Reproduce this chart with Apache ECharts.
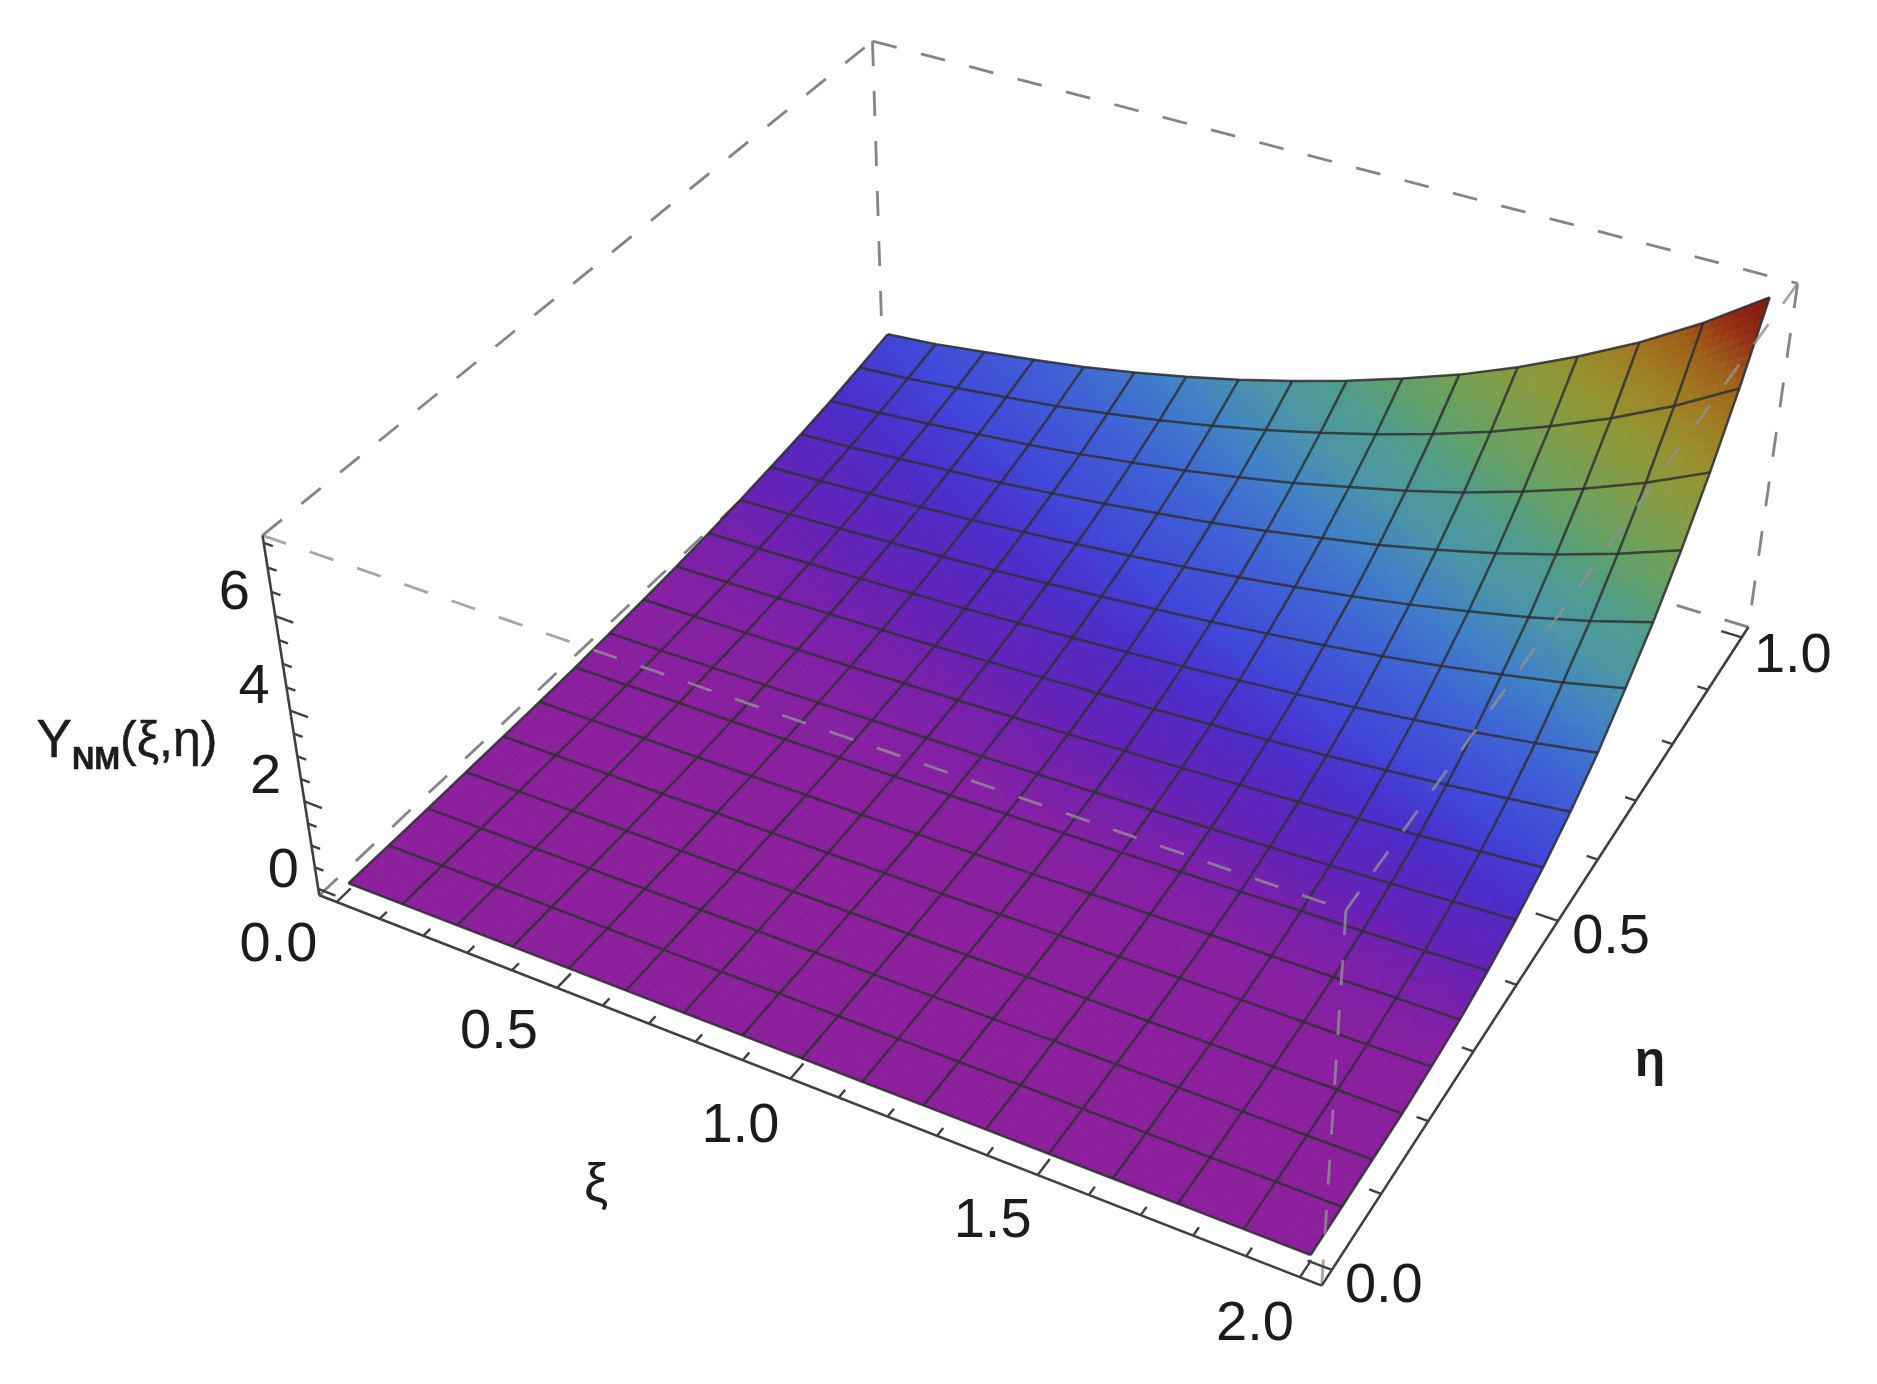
<!DOCTYPE html>
<html><head><meta charset="utf-8">
<style>html,body{margin:0;padding:0;background:#fff}#chart{width:1877px;height:1384px;filter:blur(0.7px)}</style>
<script src="https://cdn.jsdelivr.net/npm/echarts@6/dist/echarts.min.js"></script>
</head><body><div id="chart"></div>
<script>
// ---- values ----
var xiValues=[0,0.125,0.25,0.375,0.5,0.625,0.75,0.875,1,1.125,1.25,1.375,1.5,1.625,1.75,1.875,2];
var etaValues=[0,0.0625,0.125,0.1875,0.25,0.3125,0.375,0.4375,0.5,0.5625,0.625,0.6875,0.75,0.8125,0.875,0.9375,1];
var zEta00=[0,0,0,0,0,0,0,0,0,0,0,0,0,0,0,0,0];
var zEta01=[0,0,0,0,0,0,0,0,0,0,0,0,0,0,0,0.01,0.01];
var zEta02=[0,0,0,0.01,0.01,0.01,0.01,0.01,0.01,0.01,0.01,0.02,0.02,0.02,0.02,0.02,0.03];
var zEta03=[0.01,0.01,0.01,0.01,0.01,0.01,0.02,0.02,0.02,0.02,0.03,0.03,0.03,0.04,0.04,0.05,0.05];
var zEta04=[0.02,0.02,0.02,0.02,0.03,0.03,0.03,0.04,0.04,0.05,0.06,0.06,0.07,0.08,0.09,0.10,0.12];
var zEta05=[0.03,0.03,0.04,0.04,0.05,0.06,0.06,0.07,0.08,0.09,0.11,0.12,0.14,0.15,0.17,0.20,0.22];
var zEta06=[0.05,0.06,0.07,0.07,0.08,0.10,0.11,0.12,0.14,0.16,0.18,0.21,0.23,0.27,0.30,0.34,0.39];
var zEta07=[0.09,0.09,0.11,0.12,0.14,0.16,0.18,0.20,0.23,0.26,0.30,0.34,0.38,0.43,0.49,0.56,0.63];
var zEta08=[0.13,0.14,0.16,0.18,0.20,0.23,0.26,0.30,0.34,0.39,0.44,0.50,0.56,0.64,0.72,0.82,0.93];
var zEta09=[0.18,0.20,0.23,0.26,0.29,0.33,0.38,0.43,0.49,0.55,0.63,0.71,0.80,0.91,1.03,1.17,1.33];
var zEta10=[0.25,0.27,0.31,0.35,0.40,0.45,0.52,0.59,0.67,0.76,0.86,0.97,1.10,1.25,1.41,1.60,1.83];
var zEta11=[0.33,0.37,0.42,0.48,0.54,0.61,0.70,0.80,0.91,1.03,1.17,1.32,1.49,1.69,1.92,2.17,2.47];
var zEta12=[0.43,0.47,0.54,0.61,0.69,0.79,0.90,1.02,1.16,1.32,1.50,1.69,1.91,2.17,2.45,2.78,3.17];
var zEta13=[0.54,0.60,0.69,0.78,0.87,1.00,1.14,1.30,1.47,1.67,1.90,2.14,2.43,2.75,3.12,3.54,4.02];
var zEta14=[0.67,0.75,0.85,0.97,1.09,1.24,1.42,1.61,1.83,2.08,2.37,2.67,3.02,3.43,3.88,4.40,5.01];
var zEta15=[0.83,0.92,1.05,1.19,1.34,1.53,1.74,1.98,2.25,2.56,2.90,3.28,3.71,4.21,4.76,5.40,6.15];
var zEta16=[1.00,1.11,1.27,1.44,1.62,1.85,2.11,2.40,2.73,3.10,3.52,3.97,4.50,5.10,5.77,6.55,7.45];
var zRows=[zEta00,zEta01,zEta02,zEta03,zEta04,zEta05,zEta06,zEta07,zEta08,zEta09,zEta10,zEta11,zEta12,zEta13,zEta14,zEta15,zEta16];
var xiTickLabels=['0.0','0.5','1.0','1.5','2.0'];
var etaTickLabels=['0.0','0.5','1.0'];
var zTickLabels=['0','2','4','6'];
var xiTitle='ξ', etaTitle='η';

// ---- layout and style ----
var box={x0:-0.04,x1:2.04,y0:-0.02,y1:1.02,z0:-0.15,z1:7.65};
// camera of the 3D view (homogeneous projection, fitted to the frame corners)
var cam=[409.6907,723.2516,-9.708064,348.5293,117.5388,-432.2303,-51.07636,883.2395,-0.05444516,0.2056597,-0.009257751];
var colorStops=[[0,'#8c1f9b'],[0.15,'#851fa3'],[0.4,'#6222b8'],[0.7,'#4c2dca'],[1.0,'#4046d8'],[1.5,'#3f62d6'],[2.0,'#4080c8'],[2.5,'#4a95a8'],[3.0,'#4f9c8c'],[3.5,'#62a068'],[4.0,'#789e52'],[4.5,'#8a9a3c'],[5.0,'#97902e'],[5.6,'#a07c22'],[6.2,'#a0601a'],[6.8,'#952f14'],[7.45,'#7c150c']];
var xiLabelOffset=[[-58,44],[-58,45],[-50,48],[-45,47],[-45,47]];
var etaLabelOffset=[[52,17],[53,17],[51,19]];
var zLabelOffset=[[-35,-17],[-39,-24],[-36,-23],[-41,-23]];
var font='"Liberation Sans",Arial,sans-serif', ink='#1c1c1c', SUB=8;
var dashGray='#858585', dashOver='rgba(145,145,145,0.8)', axisInk='#404040', meshInk='rgba(48,48,52,0.85)';

function proj(x,y,z){var w=cam[8]*x+cam[9]*y+cam[10]*z+1;return [(cam[0]*x+cam[1]*y+cam[2]*z+cam[3])/w,(cam[4]*x+cam[5]*y+cam[6]*z+cam[7])/w];}
function at(api,x,y,z){return api.coord(proj(x,y,z));}
function colorOf(z){for(var i=1;i<colorStops.length;i++){if(z<=colorStops[i][0]){var a=colorStops[i-1],b=colorStops[i];return echarts.color.lerp((z-a[0])/(b[0]-a[0]),[a[1],b[1]]);}}return colorStops[colorStops.length-1][1];}
var B=box;
var edgesBehind=[[B.x0,B.y0,B.z0,B.x0,B.y1,B.z0],[B.x1,B.y1,B.z0,B.x0,B.y1,B.z0],[B.x0,B.y1,B.z1,B.x0,B.y1,B.z0],[B.x0,B.y0,B.z1,B.x0,B.y1,B.z1],[B.x0,B.y1,B.z1,B.x1,B.y1,B.z1],[B.x1,B.y1,B.z1,B.x1,B.y1,B.z0]];
var edgesOver=[[B.x0,B.y0,B.z1,B.x1,B.y0,B.z1],[B.x1,B.y1,B.z1,B.x1,B.y0,B.z1],[B.x1,B.y0,B.z1,B.x1,B.y0,B.z0]];
var axisEdges=[[B.x0,B.y0,B.z0,B.x1,B.y0,B.z0],[B.x1,B.y0,B.z0,B.x1,B.y1,B.z0],[B.x0,B.y0,B.z0,B.x0,B.y0,B.z1]];
var ticks=[];
(function(){var i;for(i=0;i<=20;i++)ticks.push(['xi',i/10,i%5===0]);for(i=0;i<=10;i++)ticks.push(['eta',i/10,i%5===0]);for(i=0;i<=15;i++)ticks.push(['z',i/2,i%4===0]);})();
var cellData=[];(function(){for(var j=etaValues.length-2;j>=0;j--)for(var i=0;i<xiValues.length-1;i++)cellData.push([i,j]);})();
var meshData=[];(function(){for(var j=0;j<etaValues.length;j++)meshData.push([0,j]);for(var i=0;i<xiValues.length;i++)meshData.push([1,i]);})();
var labelData=[];
xiTickLabels.forEach(function(t,i){labelData.push({t:t,p:[Number(t),B.y0,B.z0],o:xiLabelOffset[i]});});
etaTickLabels.forEach(function(t,i){labelData.push({t:t,p:[B.x1,Number(t),B.z0],o:etaLabelOffset[i]});});
zTickLabels.forEach(function(t,i){labelData.push({t:t,p:[B.x0,B.y0,Number(t)],o:zLabelOffset[i]});});

function edgeSeries(edges,color,dash,width,z){return {type:'custom',coordinateSystem:'cartesian2d',silent:true,clip:false,z:z,animation:false,data:edges.map(function(e,i){return [i];}),
 renderItem:function(p,api){var e=edges[p.dataIndex],a=at(api,e[0],e[1],e[2]),b=at(api,e[3],e[4],e[5]);return {type:'line',shape:{x1:a[0],y1:a[1],x2:b[0],y2:b[1]},style:{stroke:color,lineWidth:width,lineDash:dash,fill:null}};}};}

var option={animation:false,backgroundColor:'#fff',
 grid:{left:0,right:0,top:0,bottom:0},
 xAxis:{type:'value',min:0,max:1877,show:false},
 yAxis:{type:'value',min:0,max:1384,inverse:true,show:false},
 series:[
  edgeSeries(edgesBehind,dashGray,[25,25],2.8,1),
  {type:'custom',coordinateSystem:'cartesian2d',silent:true,clip:false,z:2,animation:false,data:cellData,
   renderItem:function(p,api){var i=cellData[p.dataIndex][0],j=cellData[p.dataIndex][1],kids=[];
    var x0=xiValues[i],x1=xiValues[i+1],y0=etaValues[j],y1=etaValues[j+1];
    var z00=zRows[j][i],z10=zRows[j][i+1],z01=zRows[j+1][i],z11=zRows[j+1][i+1];
    function node(s,t){var zz=(1-s)*(1-t)*z00+s*(1-t)*z10+(1-s)*t*z01+s*t*z11;return {z:zz,pt:at(api,x0+(x1-x0)*s,y0+(y1-y0)*t,zz)};}
    for(var b=SUB-1;b>=0;b--)for(var a=0;a<SUB;a++){
      var n1=node(a/SUB,b/SUB),n2=node((a+1)/SUB,b/SUB),n3=node((a+1)/SUB,(b+1)/SUB),n4=node(a/SUB,(b+1)/SUB);
      var c=colorOf((n1.z+n2.z+n3.z+n4.z)/4);
      kids.push({type:'polygon',shape:{points:[n1.pt,n2.pt,n3.pt,n4.pt]},style:{fill:c,stroke:c,lineWidth:0.8}});
    }
    return {type:'group',children:kids};}},
  {type:'custom',coordinateSystem:'cartesian2d',silent:true,clip:false,z:3,animation:false,data:meshData,
   renderItem:function(p,api){var m=meshData[p.dataIndex],pts=[],k;
    if(m[0]===0){for(k=0;k<xiValues.length;k++)pts.push(at(api,xiValues[k],etaValues[m[1]],zRows[m[1]][k]));}
    else{for(k=0;k<etaValues.length;k++)pts.push(at(api,xiValues[m[1]],etaValues[k],zRows[k][m[1]]));}
    return {type:'polyline',shape:{points:pts},style:{stroke:meshInk,lineWidth:2.5,fill:null,lineJoin:'round'}};}},
  edgeSeries(edgesOver,dashOver,[25,25],2.8,4),
  edgeSeries(axisEdges,axisInk,null,2.6,5),
  {type:'custom',coordinateSystem:'cartesian2d',silent:true,clip:false,z:5,animation:false,data:ticks.map(function(t,i){return [i];}),
   renderItem:function(p,api){var t=ticks[p.dataIndex],a,b,d=t[2]?1:0.5;
    if(t[0]==='xi'){a=at(api,t[1],B.y0,B.z0);b=at(api,t[1],B.y0+0.022*d,B.z0);}
    else if(t[0]==='eta'){a=at(api,B.x1,t[1],B.z0);b=at(api,B.x1-0.045*d,t[1],B.z0);}
    else{a=at(api,B.x0,B.y0,t[1]);b=at(api,B.x0+0.04*d,B.y0,t[1]);}
    return {type:'line',shape:{x1:a[0],y1:a[1],x2:b[0],y2:b[1]},style:{stroke:axisInk,lineWidth:2.4,fill:null}};}},
  {type:'custom',coordinateSystem:'cartesian2d',silent:true,clip:false,z:6,animation:false,data:labelData.map(function(t,i){return [i];}),
   renderItem:function(p,api){var l=labelData[p.dataIndex],a=at(api,l.p[0],l.p[1],l.p[2]);
    return {type:'text',style:{text:l.t,x:a[0]+l.o[0],y:a[1]+l.o[1],fontSize:56,fontFamily:font,fill:ink,align:'center',verticalAlign:'middle'}};}},
  {type:'custom',coordinateSystem:'cartesian2d',silent:true,clip:false,z:6,animation:false,data:[[0]],
   renderItem:function(p,api){var a=api.coord([127,742]),b=api.coord([596,1186]),c=api.coord([1650,1062]);
    return {type:'group',children:[
     {type:'text',style:{x:a[0],y:a[1],text:'{y|Y}{s|NM}{p|(ξ,η)}',fill:ink,align:'center',verticalAlign:'middle',fontFamily:font,stroke:ink,lineWidth:0.5,
       rich:{y:{fontSize:53,fontFamily:font,fill:ink,lineHeight:68,verticalAlign:'middle'},s:{fontSize:31,fontWeight:'bold',fontFamily:font,fill:ink,lineHeight:68,verticalAlign:'bottom'},p:{fontSize:50,fontFamily:font,fill:ink,lineHeight:68,verticalAlign:'middle'}}}},
     {type:'text',style:{x:b[0],y:b[1],text:xiTitle,fontSize:54,fontFamily:font,fill:'#1c1c1c',align:'center',verticalAlign:'middle'}},
     {type:'text',style:{x:c[0],y:c[1],text:etaTitle,fontSize:50,fontWeight:'bold',fontFamily:font,fill:'#1c1c1c',align:'center',verticalAlign:'middle'}}
    ]};}}
 ]};
echarts.init(document.getElementById('chart'),null,{renderer:'canvas'}).setOption(option);
</script></body></html>
